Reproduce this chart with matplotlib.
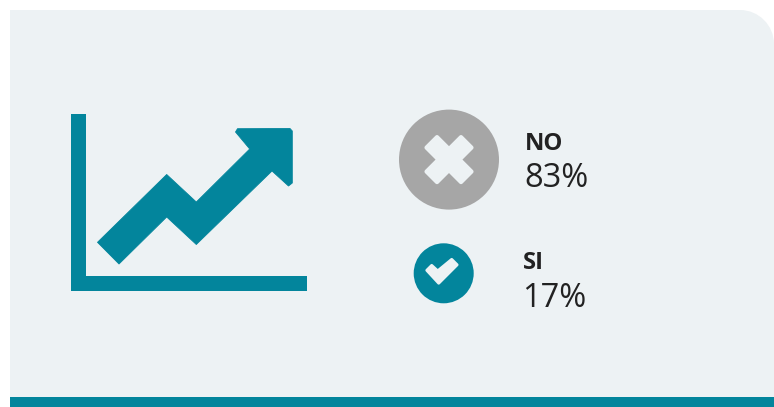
import matplotlib
matplotlib.use("Agg")
import matplotlib.pyplot as plt
from matplotlib.patches import Polygon, Circle, PathPatch, Rectangle
from matplotlib.path import Path

labels = ["NO", "SI"]
values = [83, 17]

TEAL = "#03859C"
GREY = "#A6A6A6"
PANEL = "#EDF2F4"
INK = "#222222"
FONT = "Open Sans"

fig = plt.figure(figsize=(7.74, 4.07), dpi=100, facecolor="white")
ax = fig.add_axes([0, 0, 1, 1])
ax.set_xlim(0, 774)
ax.set_ylim(407, 0)
ax.axis("off")

# panel with rounded top-right corner
r = 34
k = 0.55 * r
verts = [(10, 397), (10, 10), (774 - r, 10), (774 - r + k, 10), (774, 10 + r - k), (774, 10 + r), (774, 397), (10, 397)]
codes = [Path.MOVETO, Path.LINETO, Path.LINETO, Path.CURVE4, Path.CURVE4, Path.CURVE4, Path.LINETO, Path.CLOSEPOLY]
ax.add_patch(PathPatch(Path(verts, codes), fc=PANEL, ec="none"))
ax.add_patch(Rectangle((10, 397), 764, 10, fc=TEAL, ec="none"))

# chart icon
ax.add_patch(Polygon([(71, 113.5), (86, 113.5), (86, 275.7), (307, 275.7), (307, 290.5), (71, 290.5)],
                     closed=True, fc=TEAL, ec="none"))
arrow = [(97.5, 242.3), (166.7, 174.5), (196.3, 202), (249.7, 149), (235.5, 132), (237.5, 128.7),
         (290, 128.5), (292.3, 131), (292.3, 183), (288.5, 186), (272, 171), (196.3, 244.5),
         (166.7, 217), (119, 264)]
ax.add_patch(Polygon(arrow, closed=True, fc=TEAL, ec=TEAL, lw=0.6, joinstyle="round"))

# NO badge
cx, cy = 449, 159.6
ax.add_patch(Circle((cx, cy), 50, fc=GREY, ec="none"))
a, b, n = 22.5, 12.0, 10.5
cross = [(-b, -a), (0, -n), (b, -a), (a, -b), (n, 0), (a, b), (b, a), (0, n), (-b, a), (-a, b), (-n, 0), (-a, -b)]
ax.add_patch(Polygon([(cx + x, cy + y) for x, y in cross], closed=True, fc=PANEL, ec=PANEL,
                     lw=3.0, joinstyle="round"))

# SI badge
cx, cy = 443.7, 273.3
ax.add_patch(Circle((cx, cy), 30, fc=TEAL, ec="none"))
check = [(-17, -3), (-12, -8), (-6, -2.5), (8, -14), (13.5, -8.5), (-5, 10)]
ax.add_patch(Polygon([(cx + x, cy + y) for x, y in check], closed=True, fc=PANEL, ec=PANEL,
                     lw=2.0, joinstyle="round"))

# labels
ax.text(525, 150, labels[0], fontfamily=FONT, fontweight="bold", fontsize=17.2, color=INK, va="baseline")
ax.text(524, 187.3, f"{values[0]}%", fontfamily=FONT, fontsize=23.5, color=INK, va="baseline")
ax.text(523, 269.3, labels[1], fontfamily=FONT, fontweight="bold", fontsize=17.2, color=INK, va="baseline")
ax.text(522.5, 307.3, f"{values[1]}%", fontfamily=FONT, fontsize=23.5, color=INK, va="baseline")

fig.savefig("out.png", dpi=100, facecolor="white")
